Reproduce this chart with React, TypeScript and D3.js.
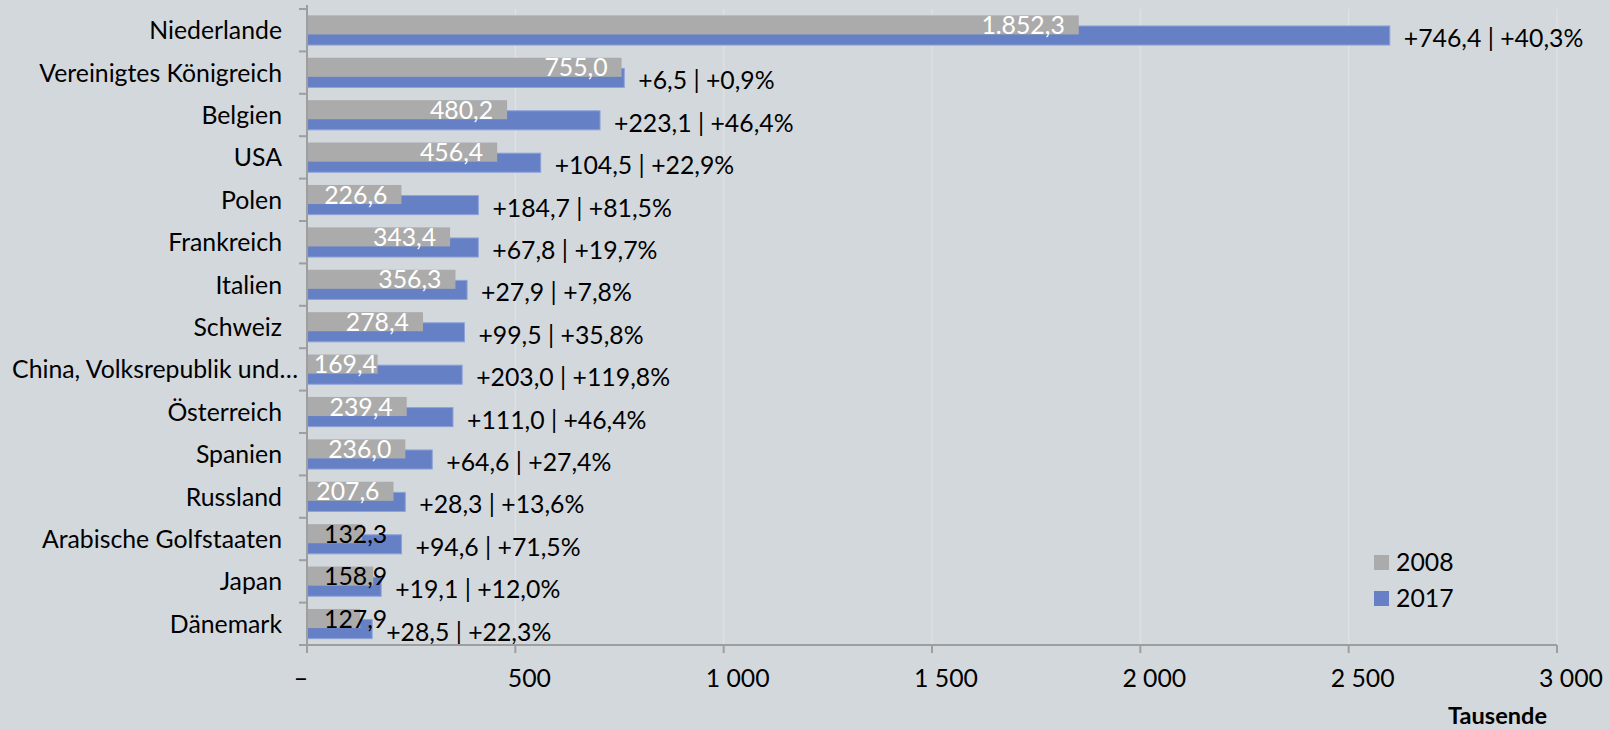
import React from "react";
import * as d3 from "d3";

const categories = [
  "Niederlande",
  "Vereinigtes Königreich",
  "Belgien",
  "USA",
  "Polen",
  "Frankreich",
  "Italien",
  "Schweiz",
  "China, Volksrepublik und…",
  "Österreich",
  "Spanien",
  "Russland",
  "Arabische Golfstaaten",
  "Japan",
  "Dänemark",
];
const values2008 = [1852.3, 755.0, 480.2, 456.4, 226.6, 343.4, 356.3, 278.4, 169.4, 239.4, 236.0, 207.6, 132.3, 158.9, 127.9];
const values2017 = [2598.7, 761.5, 703.3, 560.9, 411.3, 411.2, 384.2, 377.9, 372.4, 350.4, 300.6, 235.9, 226.9, 178.0, 156.4];
const changeAbs = [746.4, 6.5, 223.1, 104.5, 184.7, 67.8, 27.9, 99.5, 203.0, 111.0, 64.6, 28.3, 94.6, 19.1, 28.5];
const changePct = [40.3, 0.9, 46.4, 22.9, 81.5, 19.7, 7.8, 35.8, 119.8, 46.4, 27.4, 13.6, 71.5, 12.0, 22.3];
const seriesNames = ["2008", "2017"];
const xTicks = [0, 500, 1000, 1500, 2000, 2500, 3000];
const axisTitle = "Tausende";

const W = 1610;
const H = 729;
const BG = "#D3D8DC";
const GRAY = "#ABABAB";
const BLUE = "#6680C5";
const AXIS = "#9E9E9E";
const GRID = "#DDE1E4";
const FONT = "Lato, 'Open Sans', sans-serif";
const FS = 24.8;

const deLabel = d3.formatLocale({ decimal: ",", thousands: ".", grouping: [3], currency: ["", ""] });
const deAxis = d3.formatLocale({ decimal: ",", thousands: " ", grouping: [3], currency: ["", ""] });
const fmt2008 = deLabel.format(",.1f");
const fmtAbs = deLabel.format("+,.1f");
const fmtPct = deLabel.format("+.1f");
const fmtTick = (v: number) => (v === 0 ? "–" : deAxis.format(",d")(v));

export default function App() {
  const x = d3.scaleLinear().domain([0, 3000]).range([307, 1557]);
  const y = d3.scaleBand<string>().domain(categories).range([9, 645]).paddingInner(0).paddingOuter(0);
  const bw = y.bandwidth();
  const barH = bw * 0.45;
  const step = bw * 0.25;
  const start = (bw - barH - step) / 2;
  const x0 = x(0);
  const axisY = y.range()[1];
  const top = y.range()[0];

  return (
    <div style={{ position: "absolute", left: 0, top: 0, width: W, height: H, background: BG }}>
      <svg width={W} height={H} style={{ display: "block", fontFamily: FONT }}>
        <rect x={0} y={0} width={W} height={H} fill={BG} />
        {/* gridlines */}
        {xTicks.filter((t) => t > 0).map((t) => (
          <line key={"g" + t} x1={x(t)} x2={x(t)} y1={top} y2={axisY} stroke={GRID} strokeWidth={1.5} />
        ))}
        {/* bars: 2017 below, 2008 on top */}
        {categories.map((c, i) => {
          const by = (y(c) as number) + start;
          return (
            <g key={"b" + c}>
              <rect x={x0} y={by + step} width={x(values2017[i]) - x0} height={barH} fill={BLUE} stroke="#8FA2D8" strokeWidth={1} />
              <rect x={x0} y={by} width={x(values2008[i]) - x0} height={barH} fill={GRAY} />
            </g>
          );
        })}
        {/* 2008 labels */}
        {categories.map((c, i) => {
          const by = (y(c) as number) + start;
          const end = x(values2008[i]);
          const w = end - x0;
          const fits = w >= 68;
          const base = by + barH - 0.5;
          if (fits) {
            const approxW = fmt2008(values2008[i]).length * FS * 0.5;
            const right = Math.max(end - 14, x0 + 8 + approxW);
            return (
              <text key={"l8" + c} x={right} y={base} textAnchor="end" fill="#FFFFFF" fontSize={FS}>
                {fmt2008(values2008[i])}
              </text>
            );
          }
          return (
            <text key={"l8" + c} x={x0 + 17} y={base} textAnchor="start" fill="#000" fontSize={FS}>
              {fmt2008(values2008[i])}
            </text>
          );
        })}
        {/* change labels */}
        {categories.map((c, i) => {
          const by = (y(c) as number) + start + step;
          return (
            <text key={"l17" + c} x={x(values2017[i]) + 14} y={by + barH + 2} fill="#000" fontSize={FS}>
              {`${fmtAbs(changeAbs[i])} | ${fmtPct(changePct[i])}%`}
            </text>
          );
        })}
        {/* y axis */}
        <line x1={x0} x2={x0} y1={top - 4} y2={axisY} stroke={AXIS} strokeWidth={2} />
        {categories.map((c) => (
          <line key={"yt" + c} x1={x0 - 8} x2={x0} y1={y(c) as number} y2={y(c) as number} stroke={AXIS} strokeWidth={2} />
        ))}
        {categories.map((c) => {
          const truncated = c.endsWith("…");
          return (
            <text
              key={"yl" + c}
              x={truncated ? x0 - 9 : x0 - 25}
              y={(y(c) as number) + bw / 2}
              dy="0.36em"
              textAnchor="end"
              fill="#000"
              fontSize={FS}
            >
              {c}
            </text>
          );
        })}
        {/* x axis */}
        <line x1={x0 - 8} x2={x(3000)} y1={axisY} y2={axisY} stroke={AXIS} strokeWidth={2} />
        {xTicks.map((t) => (
          <line key={"xt" + t} x1={x(t)} x2={x(t)} y1={axisY} y2={axisY + 8} stroke={AXIS} strokeWidth={2} />
        ))}
        {xTicks.map((t) => (
          <text key={"xl" + t} x={x(t)} dx={t === 0 ? -6 : 14} y={686.5} textAnchor="middle" fill="#000" fontSize={FS}>
            {fmtTick(t)}
          </text>
        ))}
        <text x={x(3000) - 10} y={724} textAnchor="end" fontWeight="bold" fill="#000" fontSize={FS * 0.95}>
          {axisTitle}
        </text>
        {/* legend */}
        {seriesNames.map((s, i) => (
          <g key={"lg" + s} transform={`translate(1374, ${555 + i * 36})`}>
            <rect x={0} y={0} width={15} height={15} fill={i === 0 ? GRAY : BLUE} />
            <text x={22} y={16} fill="#000" fontSize={FS}>
              {s}
            </text>
          </g>
        ))}
      </svg>
    </div>
  );
}
